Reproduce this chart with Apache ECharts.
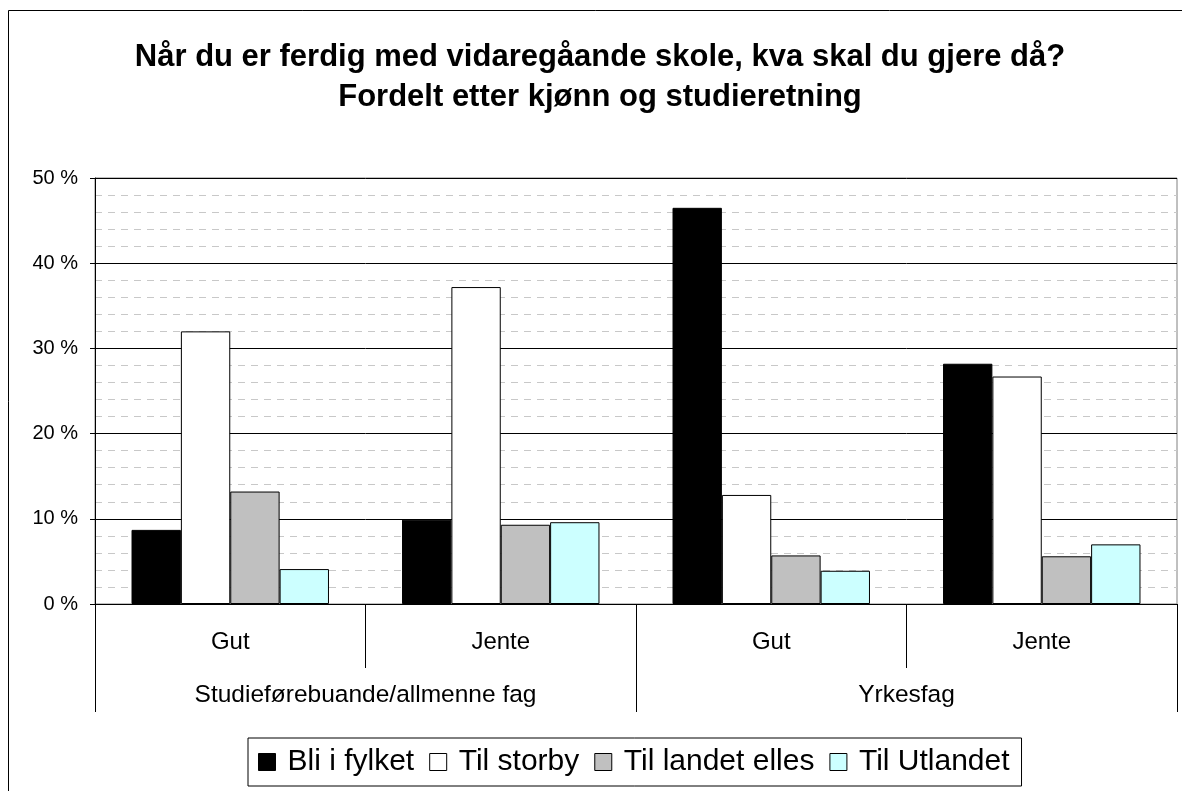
<!DOCTYPE html>
<html><head><meta charset="utf-8">
<script src="https://cdn.jsdelivr.net/npm/echarts@6/dist/echarts.min.js"></script>
<style>html,body{margin:0;padding:0;background:#fff}#c{width:1182px;height:791px}</style>
</head><body><div id="c"></div>
<script>
const categories = ['Gut', 'Jente', 'Gut', 'Jente'];
const groups = ['Studieførebuande/allmenne fag', 'Yrkesfag'];
const seriesNames = ['Bli i fylket', 'Til storby', 'Til landet elles', 'Til Utlandet'];
const bliIFylket = [8.7, 9.9, 46.5, 28.2];
const tilStorby = [32.0, 37.2, 12.8, 26.7];
const tilLandetElles = [13.2, 9.3, 5.7, 5.6];
const tilUtlandet = [4.1, 9.6, 3.9, 7.0];
const colors = ['#000000', '#ffffff', '#c0c0c0', '#ccffff'];
const values = [bliIFylket, tilStorby, tilLandetElles, tilUtlandet];

const chart = echarts.init(document.getElementById('c'));
const font = 'Liberation Sans, Arial, sans-serif';
chart.setOption({
  backgroundColor: '#fff',
  animation: false,
  textStyle: { fontFamily: font },
  title: {
    text: 'Når du er ferdig med vidaregåande skole, kva skal du gjere då?\nFordelt etter kjønn og studieretning',
    left: 595, top: 32, textAlign: 'center',
    textStyle: { fontSize: 31, fontWeight: 'bold', color: '#000', lineHeight: 40, fontFamily: font }
  },
  graphic: [{
    type: 'rect', silent: true, z: 100,
    shape: { x: 8.5, y: 10.5, width: 1300, height: 900 },
    style: { fill: 'none', stroke: '#000', lineWidth: 1 }
  }],
  legend: {
    data: seriesNames,
    left: 248, top: 738,
    padding: [9, 12, 9, 10],
    borderColor: '#000', borderWidth: 1,
    itemWidth: 17, itemHeight: 17, itemGap: 15,
    icon: 'rect',
    itemStyle: { borderColor: '#000', borderWidth: 1 },
    textStyle: { fontSize: 30, color: '#000', fontFamily: font, padding: [0, 0, 0, 7] }
  },
  grid: {
    left: 95, right: 5, top: 178, bottom: 187,
    show: true, backgroundColor: '#fff', borderColor: '#808080', borderWidth: 1
  },
  xAxis: [{
    type: 'category', data: categories, position: 'bottom', offset: 0,
    axisLine: { show: true, lineStyle: { color: '#000', width: 1 } },
    axisTick: { show: true, interval: 0, length: 64, lineStyle: { color: '#000' } },
    axisLabel: { fontSize: 24, color: '#000', margin: 26, interval: 0 },
    splitLine: { show: false }
  }, {
    type: 'category', data: groups, position: 'bottom', offset: 0,
    axisLine: { show: false },
    axisTick: { show: true, interval: 0, length: 108, lineStyle: { color: '#000' } },
    axisLabel: { fontSize: 24.5, color: '#000', margin: 79, interval: 0 },
    splitLine: { show: false }
  }],
  yAxis: {
    type: 'value', min: 0, max: 50, interval: 10,
    axisLine: { show: true, lineStyle: { color: '#000' } },
    axisTick: { show: true, length: 5, lineStyle: { color: '#000' } },
    axisLabel: { formatter: '{value} %', fontSize: 20, color: '#000', margin: 17 },
    splitLine: { show: true, lineStyle: { color: '#000', width: 1 } },
    minorTick: { show: false, splitNumber: 5 },
    minorSplitLine: { show: true, lineStyle: { color: '#c8c8c8', type: [7, 6], width: 1 } }
  },
  series: seriesNames.map((n, i) => ({
    name: n, type: 'bar', xAxisIndex: 0,
    data: values[i],
    barGap: '0%', barCategoryGap: '27%',
    itemStyle: { color: colors[i], borderColor: '#000', borderWidth: 1 }
  }))
});
</script></body></html>
